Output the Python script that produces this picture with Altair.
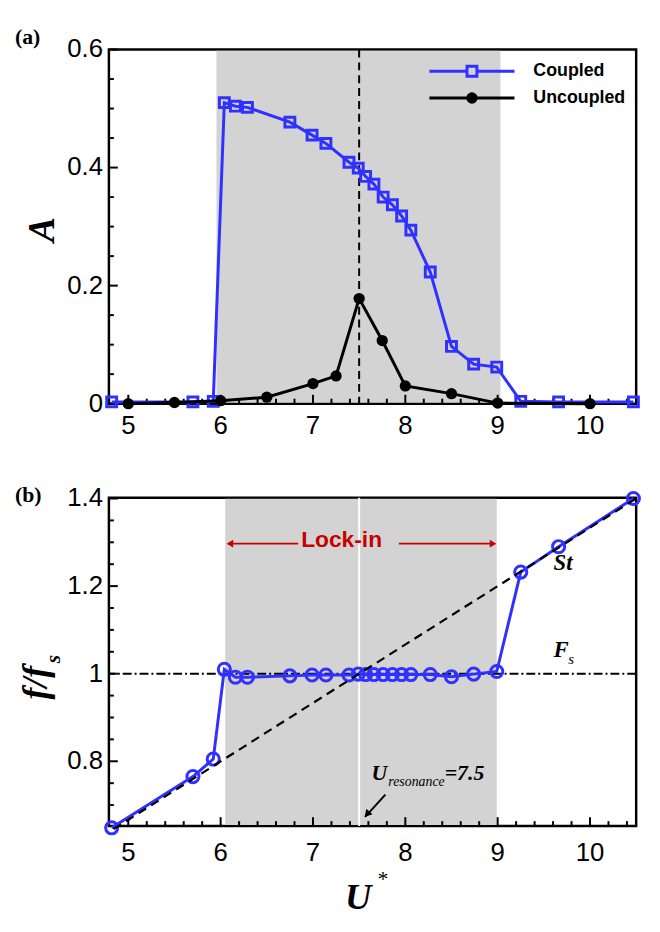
import altair as alt
import pandas as pd

# ---------------- data ----------------
series_names = ["Coupled", "Uncoupled"]

# panel (a) : amplitude
u_coupled = [4.82, 5.70, 5.92, 6.04, 6.16, 6.29, 6.75, 6.99, 7.14, 7.39, 7.49, 7.57,
             7.66, 7.76, 7.86, 7.96, 8.06, 8.27, 8.50, 8.74, 8.99, 9.25, 9.66, 10.47]
a_coupled = [0.003, 0.003, 0.004, 0.510, 0.504, 0.502, 0.477, 0.455, 0.441, 0.409, 0.399, 0.385,
             0.372, 0.350, 0.337, 0.318, 0.294, 0.223, 0.097, 0.067, 0.062, 0.004, 0.003, 0.003]
u_uncoupled = [5.0, 5.5, 6.0, 6.5, 7.0, 7.25, 7.5, 7.75, 8.0, 8.5, 9.0, 10.0]
a_uncoupled = [0.0, 0.002, 0.005, 0.011, 0.034, 0.047, 0.178, 0.107, 0.030, 0.017, 0.001, 0.0]

# panel (b) : frequency ratio
f_coupled = [0.648, 0.765, 0.805, 1.010, 0.992, 0.992, 0.995, 0.997, 0.997, 0.997, 0.999, 0.998,
             0.998, 0.998, 0.998, 0.998, 0.998, 0.998, 0.993, 0.999, 1.005, 1.232, 1.290, 1.400]
st_u = [4.84, 10.5]
st_f = [0.645, 1.400]
fs_level = [1.0]
u_res = [7.5]
band_a = [5.955, 9.03]
band_b = [6.05, 8.99]

# ticks and tick labels
x_major = [5, 6, 7, 8, 9, 10]
x_labels = ["5", "6", "7", "8", "9", "10"]
x_minor = [5.2, 5.4, 5.6, 5.8, 6.2, 6.4, 6.6, 6.8, 7.2, 7.4, 7.6, 7.8, 8.2, 8.4, 8.6, 8.8,
           9.2, 9.4, 9.6, 9.8, 10.2, 10.4]
ya_major = [0.0, 0.2, 0.4, 0.6]
ya_labels = ["0", "0.2", "0.4", "0.6"]
ya_minor = [0.05, 0.1, 0.15, 0.25, 0.3, 0.35, 0.45, 0.5, 0.55]
yb_major = [0.8, 1.0, 1.2, 1.4]
yb_labels = ["0.8", "1", "1.2", "1.4"]
yb_minor = [0.7, 0.75, 0.85, 0.9, 0.95, 1.05, 1.1, 1.15, 1.25, 1.3, 1.35]

# annotations (b)
lock_text = ["Lock-in"]
lock_pos = [7.31, 1.306]
lock_left = [6.84, 6.13]
lock_right = [7.93, 8.92]
lock_head_x = [6.10, 8.95]
lock_y = [1.297]
res_arrow_x = [7.784, 7.565]
res_arrow_y = [0.724, 0.673]
res_head = [7.585, 0.679]
res_label = [7.634, 0.757]
st_label = [9.605, 1.236]
fs_label = [9.605, 1.038]

BLUE = "#3030ff"
RED = "#c80000"
GRAY = "#d3d3d3"
W, HA, HB = 533, 358, 332
SANS = "Liberation Sans"
SERIF = "Liberation Serif"

xscale = alt.Scale(domain=[4.79, 10.5], nice=False, zero=False)
ya_scale = alt.Scale(domain=[0, 0.6], nice=False, zero=False)
yb_scale = alt.Scale(domain=[0.652, 1.402], nice=False, zero=False)


def txt(s, x, y, size, font=SERIF, weight="bold", style="italic", angle=0, align="center",
        baseline="middle", color="black"):
    kw = dict(font=font, fontSize=size, fontWeight=weight, fontStyle=style, align=align,
              baseline=baseline, color=color)
    if angle:
        kw["angle"] = angle
    return alt.Chart(pd.DataFrame({"t": [s]})).mark_text(**kw).encode(
        text="t:N", x=alt.value(x), y=alt.value(y))


def axis_layers(ys_major, ys_labels, ys_minor, yscale, h, xlab_base):
    out = []
    for vals, ln in ((x_major, 9), (x_minor, 5)):
        out.append(alt.Chart(pd.DataFrame({"v": vals})).mark_rule(color="black", strokeWidth=2).encode(
            x=alt.X("v:Q", scale=xscale, axis=None), y=alt.value(h), y2=alt.value(h - ln)))
    for vals, ln in ((ys_major, 9), (ys_minor, 5)):
        out.append(alt.Chart(pd.DataFrame({"v": vals})).mark_rule(color="black", strokeWidth=2).encode(
            y=alt.Y("v:Q", scale=yscale, axis=None), x=alt.value(0), x2=alt.value(ln)))
    out.append(alt.Chart(pd.DataFrame({"v": x_major, "t": x_labels})).mark_text(
        font=SANS, fontSize=26, color="black", align="center", baseline="alphabetic").encode(
        x=alt.X("v:Q", scale=xscale, axis=None), y=alt.value(h + xlab_base), text="t:N"))
    out.append(alt.Chart(pd.DataFrame({"v": ys_major, "t": ys_labels})).mark_text(
        font=SANS, fontSize=26, color="black", align="right", baseline="middle").encode(
        y=alt.Y("v:Q", scale=yscale, axis=None), x=alt.value(-6), text="t:N"))
    return out


# ---------------- panel (a) ----------------
df_c = pd.DataFrame({"U": u_coupled, "A": a_coupled, "f": f_coupled, "series": "Coupled"})
df_u = pd.DataFrame({"U": u_uncoupled, "A": a_uncoupled, "series": "Uncoupled"})
df_all = pd.concat([df_c[["U", "A", "series"]], df_u], ignore_index=True)

band_top = alt.Chart(pd.DataFrame({"lo": [band_a[0]], "hi": [band_a[1]]})).mark_rect(color=GRAY).encode(
    x=alt.X("lo:Q", scale=xscale, axis=None), x2="hi:Q",
    y=alt.value(1.2), y2=alt.value(HA - 1.2))

vline = alt.Chart(pd.DataFrame({"U": u_res})).mark_rule(color="black", strokeWidth=2, strokeDash=[8, 5]).encode(
    x=alt.X("U:Q", scale=xscale, axis=None))

line_c = alt.Chart(df_c).mark_line(color=BLUE, strokeWidth=3).encode(
    x=alt.X("U:Q", scale=xscale, axis=None), y=alt.Y("A:Q", scale=ya_scale, axis=None))
pts_c = alt.Chart(df_c).mark_point(shape="square", filled=False, size=100, strokeWidth=3,
                                   color=BLUE, opacity=1).encode(
    x=alt.X("U:Q", scale=xscale, axis=None), y=alt.Y("A:Q", scale=ya_scale, axis=None))
line_u = alt.Chart(df_u).mark_line(color="black", strokeWidth=3).encode(
    x=alt.X("U:Q", scale=xscale, axis=None), y=alt.Y("A:Q", scale=ya_scale, axis=None))
pts_u = alt.Chart(df_u).mark_circle(size=130, color="black", opacity=1).encode(
    x=alt.X("U:Q", scale=xscale, axis=None), y=alt.Y("A:Q", scale=ya_scale, axis=None))

legend_paths = ["M-8.6,0H-1M1,0H8.6M-1,-1H1V1H-1Z",
                "M-8.6,0H8.6M-0.85,0A0.85,0.85,0,1,0,0.85,0A0.85,0.85,0,1,0,-0.85,0Z"]
leg = alt.Legend(title=None, orient="none", legendX=320, legendY=13, labelFont=SANS,
                 labelFontWeight="bold", labelFontSize=18, labelColor="black", symbolSize=100,
                 symbolStrokeWidth=3, symbolOffset=38, labelOffset=53, rowPadding=5, padding=0,
                 symbolOpacity=1)
legend_layer = alt.Chart(df_all).mark_point(opacity=0, size=1).encode(
    x=alt.X("U:Q", scale=xscale, axis=None), y=alt.Y("A:Q", scale=ya_scale, axis=None),
    shape=alt.Shape("series:N", scale=alt.Scale(domain=series_names, range=legend_paths), legend=leg),
    stroke=alt.Stroke("series:N", scale=alt.Scale(domain=series_names, range=[BLUE, "black"]), legend=leg),
    fill=alt.Fill("series:N", scale=alt.Scale(domain=series_names, range=["transparent", "black"]), legend=leg))

top = alt.layer(
    band_top,
    *axis_layers(ya_major, ya_labels, ya_minor, ya_scale, HA, 31),
    vline, line_c, pts_c, line_u, pts_u, legend_layer,
    txt("(a)", -95, -13, 22, style="normal", align="left"),
    txt("A", -66, 182, 38, angle=270),
).properties(width=W, height=HA)

# ---------------- panel (b) ----------------
band_bot = alt.Chart(pd.DataFrame({"lo": [band_b[0]], "hi": [band_b[1]]})).mark_rect(color=GRAY).encode(
    x=alt.X("lo:Q", scale=xscale, axis=None), x2="hi:Q",
    y=alt.value(1.2), y2=alt.value(HB - 1.2))
white_line = alt.Chart(pd.DataFrame({"U": u_res})).mark_rule(color="white", strokeWidth=2).encode(
    x=alt.X("U:Q", scale=xscale, axis=None))
fs_line = alt.Chart(pd.DataFrame({"f": fs_level})).mark_rule(
    color="black", strokeWidth=2, strokeDash=[9, 3, 2, 3]).encode(
    y=alt.Y("f:Q", scale=yb_scale, axis=None))
line_b = alt.Chart(df_c).mark_line(color=BLUE, strokeWidth=3).encode(
    x=alt.X("U:Q", scale=xscale, axis=None), y=alt.Y("f:Q", scale=yb_scale, axis=None))
pts_b = alt.Chart(df_c).mark_point(shape="circle", filled=False, size=150, strokeWidth=3,
                                   color=BLUE, opacity=1).encode(
    x=alt.X("U:Q", scale=xscale, axis=None), y=alt.Y("f:Q", scale=yb_scale, axis=None))
st_line = alt.Chart(pd.DataFrame({"U": st_u, "f": st_f})).mark_line(
    color="black", strokeWidth=2.2, strokeDash=[9, 6]).encode(
    x=alt.X("U:Q", scale=xscale, axis=None), y=alt.Y("f:Q", scale=yb_scale, axis=None))

lock_rules = alt.Chart(pd.DataFrame({"a": [lock_left[0], lock_right[0]], "b": [lock_left[1], lock_right[1]],
                                     "y": lock_y * 2})).mark_rule(color=RED, strokeWidth=2).encode(
    x=alt.X("a:Q", scale=xscale, axis=None), x2="b:Q", y=alt.Y("y:Q", scale=yb_scale, axis=None))
lock_heads = alt.Chart(pd.DataFrame({"x": lock_head_x, "y": lock_y * 2, "ang": [270, 90]})).mark_point(
    shape="triangle-up", filled=True, size=60, color=RED, opacity=1).encode(
    x=alt.X("x:Q", scale=xscale, axis=None), y=alt.Y("y:Q", scale=yb_scale, axis=None),
    angle=alt.Angle("ang:Q", scale=None))
lock_txt = alt.Chart(pd.DataFrame({"x": [lock_pos[0]], "y": [lock_pos[1]], "t": lock_text})).mark_text(
    font=SANS, fontSize=23, fontWeight="bold", color=RED, align="center", baseline="middle").encode(
    x=alt.X("x:Q", scale=xscale, axis=None), y=alt.Y("y:Q", scale=yb_scale, axis=None), text="t:N")

res_rule = alt.Chart(pd.DataFrame({"x": [res_arrow_x[0]], "x2": [res_arrow_x[1]],
                                   "y": [res_arrow_y[0]], "y2": [res_arrow_y[1]]})).mark_rule(
    color="black", strokeWidth=2).encode(
    x=alt.X("x:Q", scale=xscale, axis=None), x2="x2:Q",
    y=alt.Y("y:Q", scale=yb_scale, axis=None), y2="y2:Q")
res_headm = alt.Chart(pd.DataFrame({"x": [res_head[0]], "y": [res_head[1]]})).mark_point(
    shape="triangle-up", filled=True, size=70, color="black", opacity=1, angle=222).encode(
    x=alt.X("x:Q", scale=xscale, axis=None), y=alt.Y("y:Q", scale=yb_scale, axis=None))


def data_txt(s, pos, size, dx=0, dy=0, weight="bold"):
    kw = dict(font=SERIF, fontSize=size, fontWeight=weight, fontStyle="italic", align="left",
              baseline="alphabetic", color="black")
    if dx:
        kw["dx"] = dx
    if dy:
        kw["dy"] = dy
    return alt.Chart(pd.DataFrame({"x": [pos[0]], "y": [pos[1]], "t": [s]})).mark_text(**kw).encode(
        x=alt.X("x:Q", scale=xscale, axis=None), y=alt.Y("y:Q", scale=yb_scale, axis=None), text="t:N")


bottom = alt.layer(
    band_bot, white_line,
    *axis_layers(yb_major, yb_labels, yb_minor, yb_scale, HB, 35),
    fs_line, line_b, pts_b, st_line,
    lock_rules, lock_heads, lock_txt, res_rule, res_headm,
    data_txt("U", res_label, 22),
    data_txt("resonance", res_label, 14, dx=17, dy=6, weight="normal"),
    data_txt("=7.5", res_label, 22, dx=74),
    data_txt("St", st_label, 23),
    data_txt("F", fs_label, 23),
    data_txt("s", fs_label, 15, dx=15, dy=7, weight="normal"),
    txt("(b)", -95, -3, 22, style="normal", align="left"),
    txt("f/f", -74, 187, 36, angle=270),
    txt("s", -56, 163, 22, angle=270),
    txt("U", 252, 416, 37, baseline="alphabetic"),
    txt("*", 277, 386, 22, style="normal", weight="normal"),
).properties(width=W, height=HB)

chart = alt.vconcat(top, bottom, spacing=41).properties(
    padding={"left": 5, "top": 11, "right": 5, "bottom": 0}
).configure_view(stroke="black", strokeWidth=2.5)

chart.save("out.html", embed_options={"renderer": "svg", "actions": False})
